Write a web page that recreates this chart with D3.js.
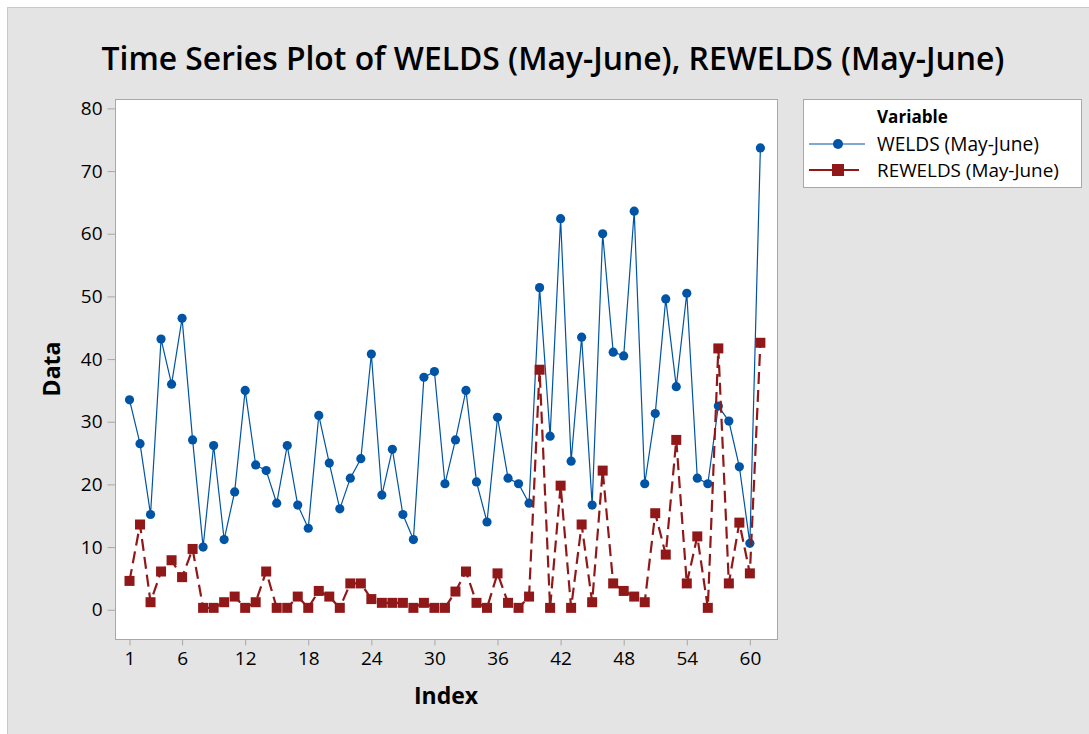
<!DOCTYPE html>
<html>
<head>
<meta charset="utf-8">
<script src="https://cdn.jsdelivr.net/npm/d3@7"></script>
<style>
  body { margin: 0; background: #fff; }
  svg { display: block; font-family: "Open Sans", "Noto Sans", sans-serif; }
</style>
</head>
<body>
<svg id="chart"></svg>
<script>
// values (index 1..61)
const welds = [33.5, 26.5, 15.2, 43.2, 36.0, 46.5, 27.1, 10.0, 26.2, 11.2,
               18.8, 35.0, 23.1, 22.2, 17.0, 26.2, 16.7, 13.0, 31.0, 23.4,
               16.1, 21.0, 24.1, 40.8, 18.3, 25.6, 15.2, 11.2, 37.1, 38.0,
               20.1, 27.1, 35.0, 20.4, 14.0, 30.7, 21.0, 20.1, 17.0, 51.4,
               27.7, 62.4, 23.7, 43.5, 16.7, 60.0, 41.1, 40.5, 63.6, 20.1,
               31.3, 49.6, 35.6, 50.5, 21.0, 20.1, 32.5, 30.1, 22.8, 10.6,
               73.7]
const rewelds = [4.6, 13.6, 1.2, 6.1, 7.9, 5.2, 9.7, 0.3, 0.3, 1.2,
                 2.1, 0.3, 1.2, 6.1, 0.3, 0.3, 2.1, 0.3, 3.0, 2.1,
                 0.3, 4.2, 4.2, 1.7, 1.1, 1.1, 1.1, 0.3, 1.1, 0.3,
                 0.3, 2.9, 6.1, 1.1, 0.3, 5.8, 1.1, 0.3, 2.1, 38.3,
                 0.3, 19.8, 0.3, 13.6, 1.2, 22.2, 4.2, 3.0, 2.1, 1.2,
                 15.4, 8.8, 27.1, 4.2, 11.7, 0.3, 41.7, 4.2, 13.9, 5.8,
                 42.6]
const xTicks = [1, 6, 12, 18, 24, 30, 36, 42, 48, 54, 60]
const yTicks = [0, 10, 20, 30, 40, 50, 60, 70, 80]
const seriesNames = ["WELDS (May-June)", "REWELDS (May-June)"]

const W = 1089, H = 734
const blue = "#0054a6", red = "#901818"

var svg = d3.select("#chart").attr("width", W).attr("height", H)

// gray panel
svg.append("rect").attr("x", 7.5).attr("y", 7.5).attr("width", W).attr("height", H)
   .attr("fill", "#e4e4e4").attr("stroke", "#c8c8c8")

var plot = {left: 115, right: 777, top: 99, bottom: 639}

var x = d3.scaleLinear().domain([-0.38, 62.58]).range([plot.left, plot.right])
var y = d3.scaleLinear().domain([-4.67, 81.5]).range([plot.bottom, plot.top])

svg.append("rect")
   .attr("x", plot.left + 0.5).attr("y", plot.top + 0.5)
   .attr("width", plot.right - plot.left).attr("height", plot.bottom - plot.top)
   .attr("fill", "#fff").attr("stroke", "#a8a8a8")

// fit a text element to a target width
function fitWidth(sel, target) {
    var w = sel.node().getComputedTextLength()
    var fs = parseFloat(sel.attr("font-size"))
    sel.attr("font-size", fs * target / w)
}

// title
var title = svg.append("text")
   .attr("x", 553).attr("y", 70)
   .attr("text-anchor", "middle")
   .attr("font-size", 30)
   .attr("font-weight", 600)
   .attr("fill", "#000")
   .text("Time Series Plot of WELDS (May-June), REWELDS (May-June)")
fitWidth(title, 903)

// axes
var xAxis = svg.append("g")
   .attr("transform", "translate(0," + (plot.bottom + 0.5) + ")")
   .call(d3.axisBottom(x).tickValues(xTicks).tickSize(6).tickSizeOuter(0).tickPadding(6))
xAxis.select(".domain").remove()
xAxis.selectAll("line").attr("stroke", "#a8a8a8")
xAxis.selectAll("text").attr("font-size", 19).attr("fill", "#000")
   .attr("font-family", "Open Sans, sans-serif")

var yAxis = svg.append("g")
   .attr("transform", "translate(" + (plot.left + 0.5) + ",0)")
   .call(d3.axisLeft(y).tickValues(yTicks).tickSize(8).tickSizeOuter(0).tickPadding(5))
yAxis.select(".domain").remove()
yAxis.selectAll("line").attr("stroke", "#a8a8a8")
yAxis.selectAll("text").attr("font-size", 19).attr("fill", "#000")
   .attr("font-family", "Open Sans, sans-serif")

// axis labels
svg.append("text")
   .attr("x", 446).attr("y", 704)
   .attr("text-anchor", "middle").attr("font-size", 23).attr("font-weight", "bold")
   .attr("fill", "#000").text("Index")

svg.append("text")
   .attr("transform", "translate(60,369) rotate(-90)")
   .attr("text-anchor", "middle").attr("font-size", 23).attr("font-weight", "bold")
   .attr("fill", "#000").text("Data")

// series
var line = d3.line().x((d, i) => x(i + 1)).y(d => y(d))

var g = svg.append("g")

g.append("path").datum(welds)
   .attr("d", line).attr("fill", "none")
   .attr("stroke", blue).attr("stroke-width", 1.2)

g.selectAll("circle.w").data(welds).enter().append("circle")
   .attr("class", "w")
   .attr("cx", (d, i) => x(i + 1)).attr("cy", d => y(d))
   .attr("r", 4.6).attr("fill", blue)

g.append("path").datum(rewelds)
   .attr("d", line).attr("fill", "none")
   .attr("stroke", red).attr("stroke-width", 2.2)
   .attr("stroke-dasharray", "12,6")

var sq = 10
g.selectAll("rect.r").data(rewelds).enter().append("rect")
   .attr("class", "r")
   .attr("x", (d, i) => x(i + 1) - sq / 2).attr("y", d => y(d) - sq / 2)
   .attr("width", sq).attr("height", sq).attr("fill", red)

// legend
var leg = svg.append("g")
leg.append("rect").attr("x", 803.5).attr("y", 99.5).attr("width", 278).attr("height", 88)
   .attr("fill", "#fff").attr("stroke", "#a8a8a8")

var vt = leg.append("text").attr("x", 877).attr("y", 123)
   .attr("font-size", 17).attr("font-weight", "bold").attr("fill", "#000")
   .text("Variable")
fitWidth(vt, 71)

var legendRows = [
    {name: seriesNames[0], color: blue, y: 144, width: 1.2, marker: "circle", w: 162},
    {name: seriesNames[1], color: red, y: 170, width: 2, marker: "square", w: 182}
]

legendRows.forEach(function (r) {
    leg.append("line").attr("x1", 809).attr("x2", r.marker == "circle" ? 865 : 859)
       .attr("y1", r.y).attr("y2", r.y)
       .attr("stroke", r.color).attr("stroke-width", r.width)
    if (r.marker == "circle") {
        leg.append("circle").attr("cx", 838).attr("cy", r.y).attr("r", 5).attr("fill", r.color)
    } else {
        leg.append("rect").attr("x", 832).attr("y", r.y - 6).attr("width", 12).attr("height", 12)
           .attr("fill", r.color)
    }
    var t = leg.append("text").attr("x", 877).attr("y", r.y + 7)
       .attr("font-size", 17).attr("fill", "#000").text(r.name)
    fitWidth(t, r.w)
})
</script>
</body>
</html>
